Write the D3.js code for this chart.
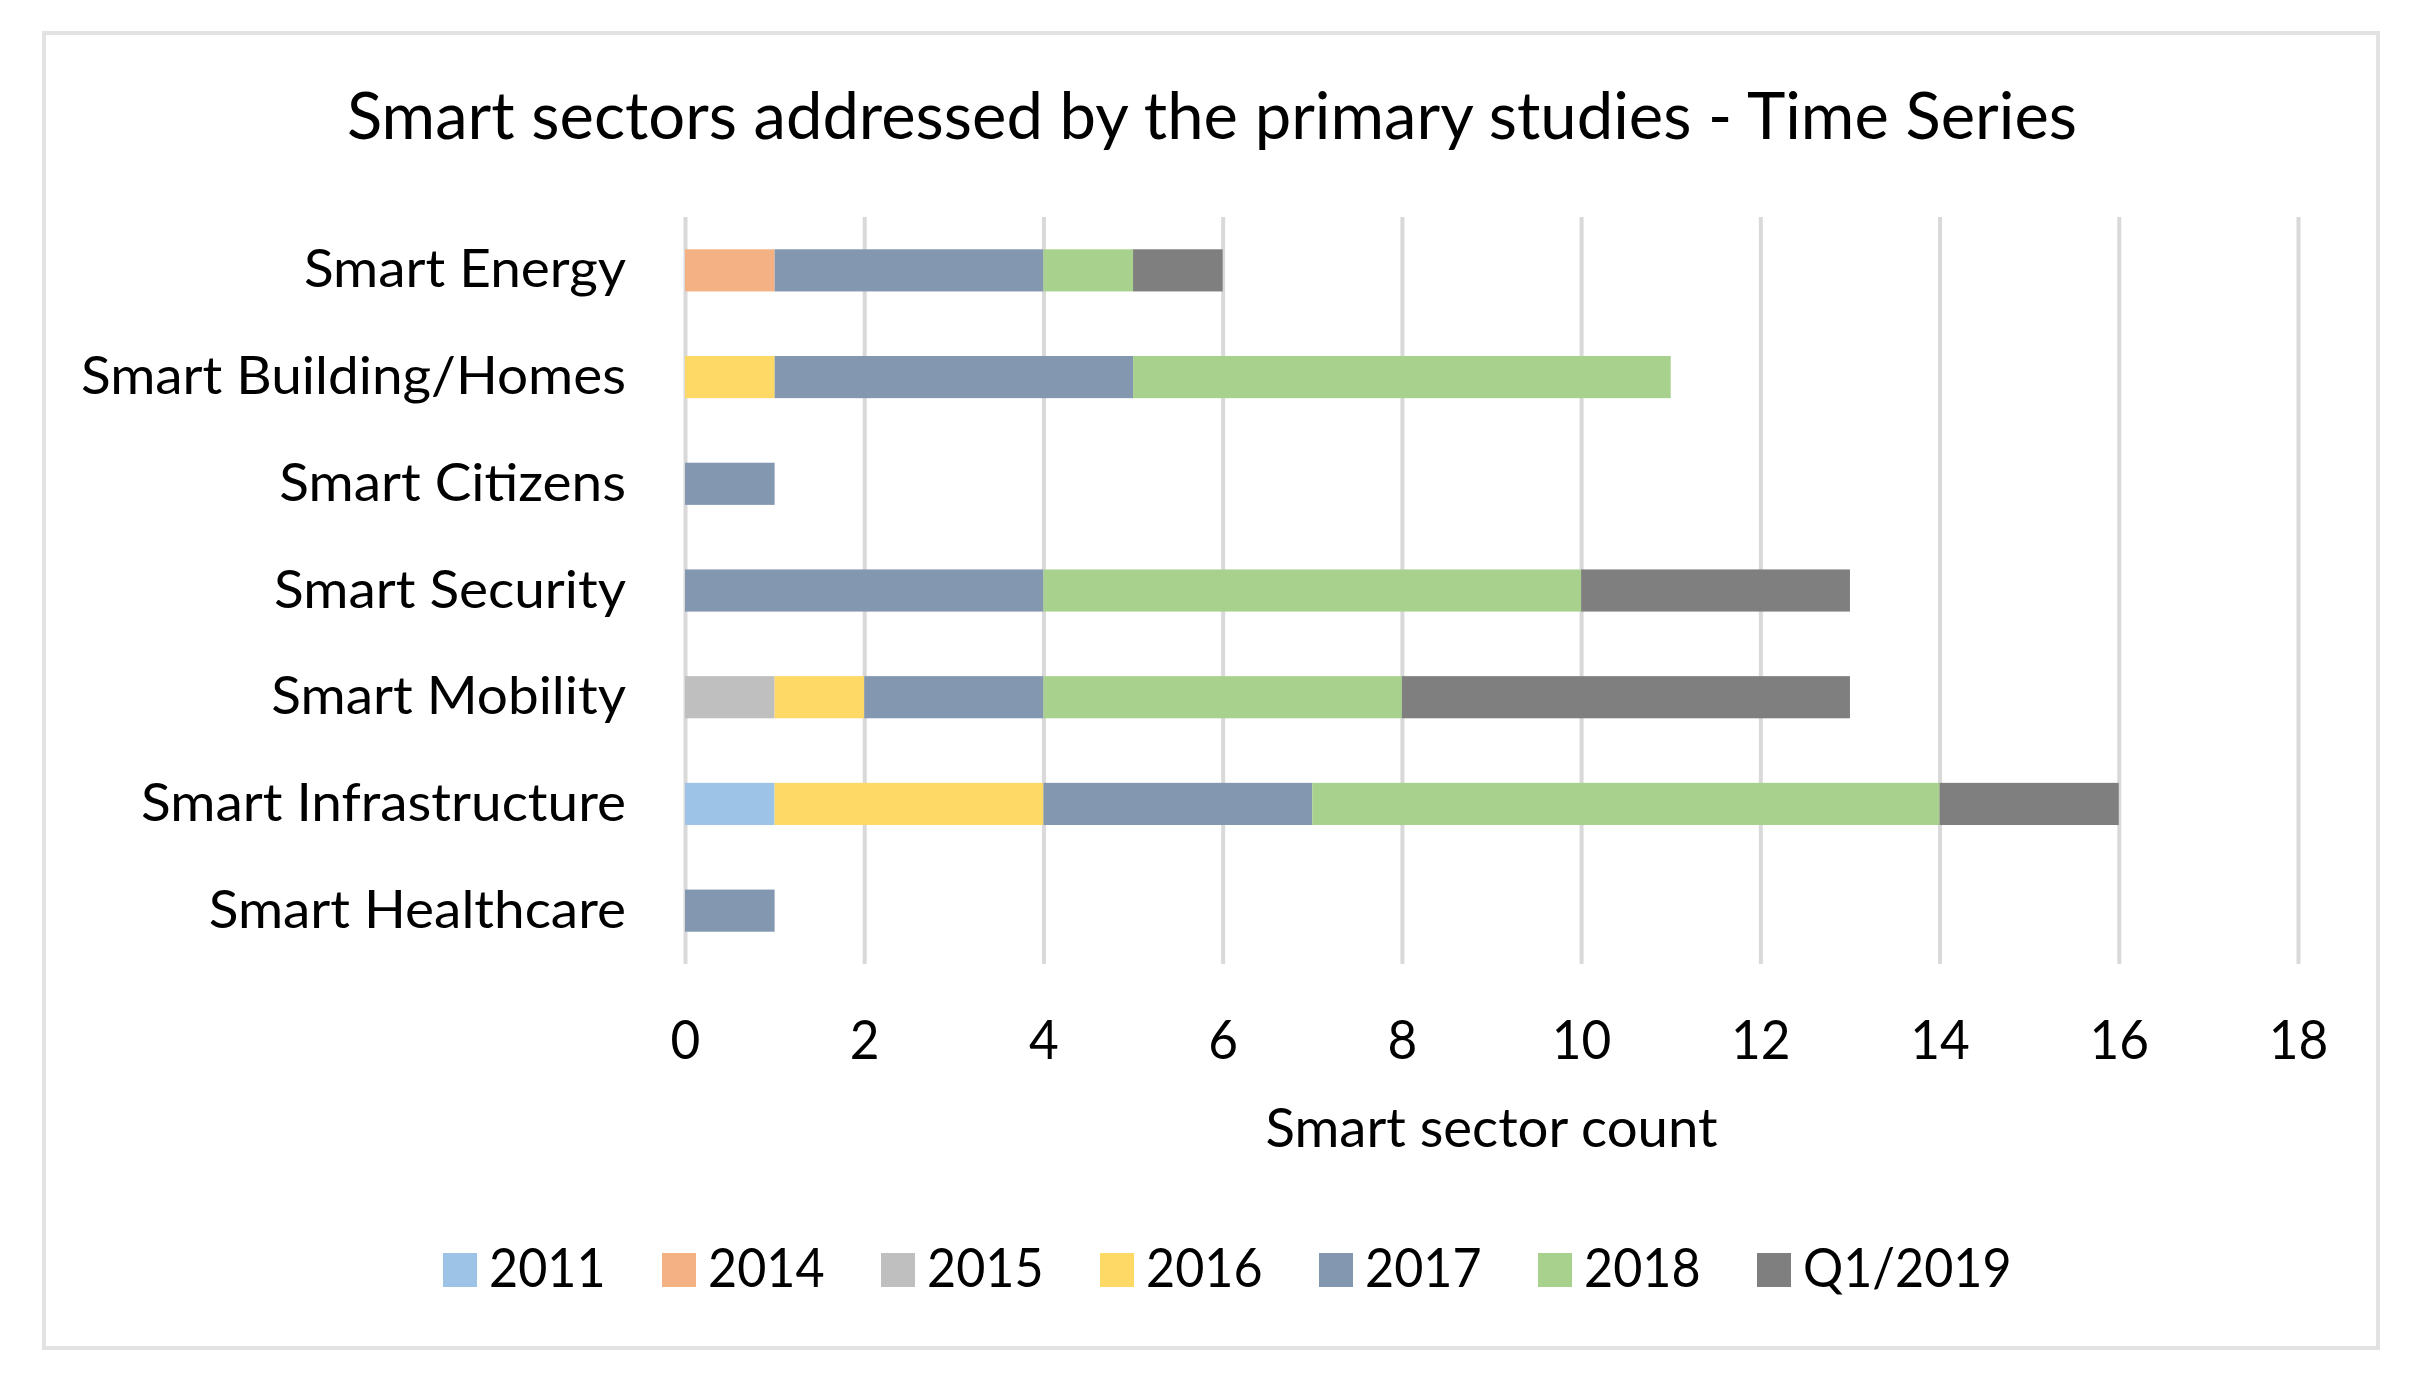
<!DOCTYPE html>
<html>
<head>
<meta charset="utf-8">
<script src="https://cdn.jsdelivr.net/npm/d3@7"></script>
<style>
  html, body { margin: 0; padding: 0; background: #fff; }
  text { font-family: Lato, 'Open Sans', sans-serif; fill: #000; }
</style>
</head>
<body>
<div id="chart"></div>
<script>
// 차트 데이터 (위에서 아래 순서)
const categories = ['Smart Energy', 'Smart Building/Homes', 'Smart Citizens', 'Smart Security', 'Smart Mobility', 'Smart Infrastructure', 'Smart Healthcare'];
const years = ['2011', '2014', '2015', '2016', '2017', '2018', 'Q1/2019'];
const v2011 = [0, 0, 0, 0, 0, 1, 0];
const v2014 = [1, 0, 0, 0, 0, 0, 0];
const v2015 = [0, 0, 0, 0, 1, 0, 0];
const v2016 = [0, 1, 0, 0, 1, 3, 0];
const v2017 = [3, 4, 1, 4, 2, 3, 1];
const v2018 = [1, 6, 0, 6, 4, 7, 0];
const vQ12019 = [1, 0, 0, 3, 5, 2, 0];
const xTicks = [0, 2, 4, 6, 8, 10, 12, 14, 16, 18];
const colors = ['#9dc3e6', '#f4b183', '#bfbfbf', '#ffd966', '#8497b0', '#a9d18e', '#7f7f7f'];

function drawChart(tagName) {
  const width = 2409;
  const height = 1373;
  const plot = { left: 685, right: 2298, top: 217, bottom: 964 };
  const seriesValues = [v2011, v2014, v2015, v2016, v2017, v2018, vQ12019];

  // stack 용 table
  const table = categories.map((c, i) => {
    const row = { name: c };
    years.forEach((y, j) => (row[y] = seriesValues[j][i]));
    return row;
  });
  const stacked = d3.stack().keys(years)(table);

  const x = d3.scaleLinear().domain([0, 18]).range([plot.left, plot.right]);
  const y = d3.scaleBand().domain(categories).range([plot.top, plot.bottom]).paddingInner(0.605).paddingOuter(0.3025);
  const color = d3.scaleOrdinal().domain(years).range(colors);

  const svg = d3
    .select(tagName)
    .append('svg')
    .attr('width', width)
    .attr('height', height)
    .attr('viewBox', `0 0 ${width} ${height}`);

  // 바깥 테두리
  svg
    .append('rect')
    .attr('x', 44)
    .attr('y', 33)
    .attr('width', 2378 - 44)
    .attr('height', 1348 - 33)
    .attr('fill', '#fff')
    .attr('stroke', '#e2e2e2')
    .attr('stroke-width', 4);

  // 제목
  const title = svg
    .append('text')
    .attr('x', 1212)
    .attr('y', 139)
    .attr('text-anchor', 'middle')
    .style('font-size', '65px')
    .text('Smart sectors addressed by the primary studies - Time Series');
  fitWidth(title, 1730);

  // x축 (grid + tick label)
  const xAxis = (g) =>
    g
      .attr('transform', `translate(0, ${plot.bottom})`)
      .call(d3.axisBottom(x).tickValues(xTicks).tickSize(plot.top - plot.bottom).tickPadding(0))
      .call((g) => g.select('.domain').remove())
      .call((g) => g.selectAll('line').attr('stroke', '#d9d9d9').attr('stroke-width', 4))
      .call((g) =>
        g
          .selectAll('text')
          .attr('y', 1059 - plot.bottom)
          .attr('dy', null)
          .style('font-size', '54px')
          .style('font-family', 'Lato, sans-serif')
          .attr('fill', '#000')
      );
  svg.append('g').call(xAxis);
  squeeze(svg.selectAll('.tick text'), 0.95);

  // 막대
  svg
    .append('g')
    .selectAll('g')
    .data(stacked)
    .join('g')
    .attr('fill', (d) => color(d.key))
    .selectAll('rect')
    .data((d) => d.filter((s) => s[1] - s[0] > 0))
    .join('rect')
    .attr('x', (d) => x(d[0]))
    .attr('y', (d) => y(d.data.name))
    .attr('width', (d) => x(d[1]) - x(d[0]))
    .attr('height', y.bandwidth());

  // y축 카테고리 라벨
  const labels = svg
    .append('g')
    .selectAll('text')
    .data(categories)
    .join('text')
    .attr('x', 626)
    .attr('y', (d) => y(d) + y.bandwidth() / 2 + 17)
    .attr('text-anchor', 'end')
    .style('font-size', '53px')
    .text((d) => d);
  const labelRef = labels.filter((d) => d === 'Smart Building/Homes');
  squeeze(labels, 545 / labelRef.node().getComputedTextLength());

  // x축 제목
  const axisTitle = svg
    .append('text')
    .attr('x', (plot.left + plot.right) / 2)
    .attr('y', 1147)
    .attr('text-anchor', 'middle')
    .style('font-size', '54px')
    .text('Smart sector count');
  fitWidth(axisTitle, 452);

  // 범례
  const lx = d3.scalePoint().domain(years).range([443, 443 + 6 * 219]);
  const legend = svg
    .append('g')
    .selectAll('g')
    .data(years)
    .join('g')
    .attr('transform', (d) => `translate(${lx(d)}, 1253)`);
  legend.append('rect').attr('width', 34).attr('height', 34).attr('fill', (d) => color(d));
  const legendText = legend
    .append('text')
    .attr('x', 46)
    .attr('y', 34)
    .style('font-size', '54px')
    .text((d) => d);
  squeeze(legendText, 0.93);
}

// Calibri 폭에 맞게 글자 폭 조정
function fitWidth(sel, target) {
  sel.attr('textLength', target).attr('lengthAdjust', 'spacingAndGlyphs');
}

function squeeze(sel, factor) {
  sel.each(function () {
    const len = this.getComputedTextLength();
    d3.select(this).attr('textLength', len * factor).attr('lengthAdjust', 'spacingAndGlyphs');
  });
}

drawChart('#chart');
</script>
</body>
</html>
